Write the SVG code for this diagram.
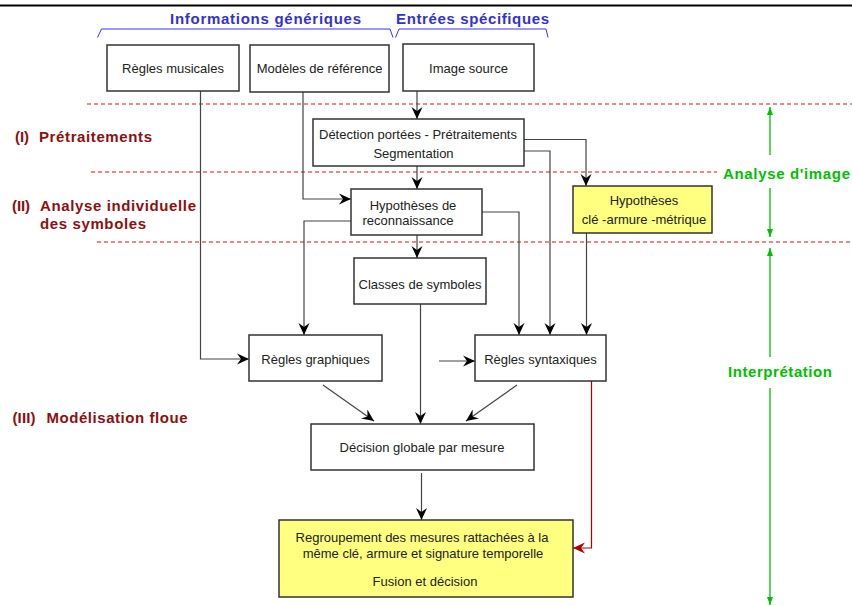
<svg xmlns="http://www.w3.org/2000/svg" width="852" height="606" viewBox="0 0 852 606">
<style>
.box{fill:#fff;stroke:#333;stroke-width:1.5}
.yel{fill:#ffff80;stroke:#333;stroke-width:1.5}
.t{font-family:"Liberation Sans",Arial,sans-serif;font-size:13px;fill:#222;text-anchor:middle}
.hdr{font-family:"Liberation Sans",Arial,sans-serif;font-size:15px;font-weight:bold;fill:#3333cc}
.lab{font-family:"Liberation Sans",Arial,sans-serif;font-size:15px;font-weight:bold;fill:#8b1010}
.grn{font-family:"Liberation Sans",Arial,sans-serif;font-size:15px;font-weight:bold;fill:#00c000}
.c{fill:none;stroke:#444;stroke-width:1.2}
.dash{fill:none;stroke:#dd1111;stroke-width:1;stroke-dasharray:4,3}
.gl{fill:none;stroke:#00c000;stroke-width:1.3}
</style>
<defs>
<marker id="a" markerUnits="userSpaceOnUse" viewBox="0 0 12 12" refX="12" refY="6" markerWidth="12" markerHeight="12" orient="auto">
<path d="M0,0.5 L12,6 L0,11.5 L4,6 z" fill="#000"/>
</marker>
<marker id="ar" markerUnits="userSpaceOnUse" viewBox="0 0 12 12" refX="12" refY="6" markerWidth="12" markerHeight="12" orient="auto">
<path d="M0,0.5 L12,6 L0,11.5 L4,6 z" fill="#b00000"/>
</marker>
<marker id="g" markerUnits="userSpaceOnUse" viewBox="0 0 8 8" refX="8" refY="4" markerWidth="8" markerHeight="8" orient="auto">
<path d="M0,1 L8,4 L0,7 z" fill="#00c000"/>
</marker>
</defs>
<line x1="0" y1="5.5" x2="852" y2="5.5" stroke="#000" stroke-width="2"/>
<g id="headers">
<text class="hdr" x="170" y="24" textLength="191" lengthAdjust="spacing">Informations génériques</text>
<text class="hdr" x="396" y="24" textLength="153" lengthAdjust="spacing">Entrées spécifiques</text>
<path d="M97.5,37.5 L101.5,29 L390,29 L393,37.5" fill="none" stroke="#3333ee" stroke-width="1"/>
<path d="M395.5,37.5 L399,29 L546,29 L548,37.5" fill="none" stroke="#3333ee" stroke-width="1"/>
</g>
<g id="separators">
<line class="dash" x1="87" y1="104" x2="852" y2="104"/>
<line class="dash" x1="91" y1="172" x2="717" y2="172"/>
<line class="dash" x1="97" y1="242" x2="852" y2="242"/>
</g>
<g id="phase-labels">
<text class="lab" x="15" y="142" textLength="14" lengthAdjust="spacing">(I)</text>
<text class="lab" x="39" y="142" textLength="113" lengthAdjust="spacing">Prétraitements</text>
<text class="lab" x="12" y="211" textLength="18" lengthAdjust="spacing">(II)</text>
<text class="lab" x="40" y="211" textLength="156" lengthAdjust="spacing">Analyse individuelle</text>
<text class="lab" x="40" y="229" textLength="106" lengthAdjust="spacing">des symboles</text>
<text class="lab" x="12.5" y="423" textLength="23" lengthAdjust="spacing">(III)</text>
<text class="lab" x="46.5" y="423" textLength="141" lengthAdjust="spacing">Modélisation floue</text>
</g>
<g id="analyse-image">
<text class="grn" x="723" y="179" textLength="127" lengthAdjust="spacing">Analyse d'image</text>
<line class="gl" x1="770" y1="155" x2="770" y2="107" marker-end="url(#g)"/>
<line class="gl" x1="770" y1="188" x2="770" y2="237" marker-end="url(#g)"/>
</g>
<g id="interpretation">
<text class="grn" x="728" y="377" textLength="104" lengthAdjust="spacing">Interprétation</text>
<line class="gl" x1="770" y1="357" x2="770" y2="248" marker-end="url(#g)"/>
<line class="gl" x1="770" y1="388" x2="770" y2="605" marker-end="url(#g)"/>
</g>
<g id="connectors">
<line class="c" x1="417" y1="91" x2="417" y2="119" marker-end="url(#a)"/>
<line class="c" x1="417" y1="166" x2="417" y2="189" marker-end="url(#a)"/>
<path class="c" d="M303,92 V199 H351" marker-end="url(#a)"/>
<path class="c" d="M200.5,91 V359 H249" marker-end="url(#a)"/>
<path class="c" d="M351,221 H304 V335" marker-end="url(#a)"/>
<line class="c" x1="417" y1="235" x2="417" y2="258" marker-end="url(#a)"/>
<path class="c" d="M482,212 H519 V335" marker-end="url(#a)"/>
<path class="c" d="M524,151 H550 V335" marker-end="url(#a)"/>
<path class="c" d="M524,139.5 H586 V186" marker-end="url(#a)"/>
<line class="c" x1="586.5" y1="233" x2="586.5" y2="335" marker-end="url(#a)"/>
<line class="c" x1="439" y1="361" x2="475" y2="361" marker-end="url(#a)"/>
<line class="c" x1="420.5" y1="304" x2="420.5" y2="424" marker-end="url(#a)"/>
<line class="c" x1="323" y1="385" x2="374" y2="421" marker-end="url(#a)"/>
<line class="c" x1="517" y1="385" x2="466" y2="421" marker-end="url(#a)"/>
<line class="c" x1="421.5" y1="473" x2="421.5" y2="520" marker-end="url(#a)"/>
<path d="M591.5,381 V548 H573" fill="none" stroke="#b00000" stroke-width="1.2" marker-end="url(#ar)"/>
</g>
<g id="regles-musicales">
<rect class="box" x="107" y="45" width="132" height="46"/>
<text class="t" x="173" y="73">Règles musicales</text>
</g>
<g id="modeles-reference">
<rect class="box" x="250" y="45" width="139" height="47"/>
<text class="t" x="319.5" y="73">Modèles de référence</text>
</g>
<g id="image-source">
<rect class="box" x="403" y="44" width="131" height="47"/>
<text class="t" x="468.5" y="73">Image source</text>
</g>
<g id="detection">
<rect class="box" x="313" y="119" width="211" height="47"/>
<text class="t" x="418" y="139">Détection portées - Prétraitements</text>
<text class="t" x="413.5" y="158">Segmentation</text>
</g>
<g id="hypotheses-reconnaissance">
<rect class="box" x="351" y="189" width="131" height="46"/>
<text class="t" x="413" y="210">Hypothèses de</text>
<text class="t" x="408" y="225">reconnaissance</text>
</g>
<g id="hypotheses-cle">
<rect class="yel" x="573" y="186" width="139" height="47"/>
<text class="t" x="644" y="205">Hypothèses</text>
<text class="t" x="644" y="224">clé -armure -métrique</text>
</g>
<g id="classes-symboles">
<rect class="box" x="354" y="258" width="132" height="46"/>
<text class="t" x="420" y="289">Classes de symboles</text>
</g>
<g id="regles-graphiques">
<rect class="box" x="249" y="335" width="133" height="46"/>
<text class="t" x="315.5" y="364">Règles graphiques</text>
</g>
<g id="regles-syntaxiques">
<rect class="box" x="475" y="335" width="131" height="46"/>
<text class="t" x="540.5" y="364">Règles syntaxiques</text>
</g>
<g id="decision-globale">
<rect class="box" x="311" y="424" width="223" height="46"/>
<text class="t" x="422" y="452">Décision globale par mesure</text>
</g>
<g id="regroupement">
<rect class="yel" x="279" y="520" width="294" height="77"/>
<text class="t" x="422" y="542">Regroupement des mesures rattachées à la</text>
<text class="t" x="423" y="558">même clé, armure et signature temporelle</text>
<text class="t" x="425" y="586">Fusion et décision</text>
</g>
</svg>
